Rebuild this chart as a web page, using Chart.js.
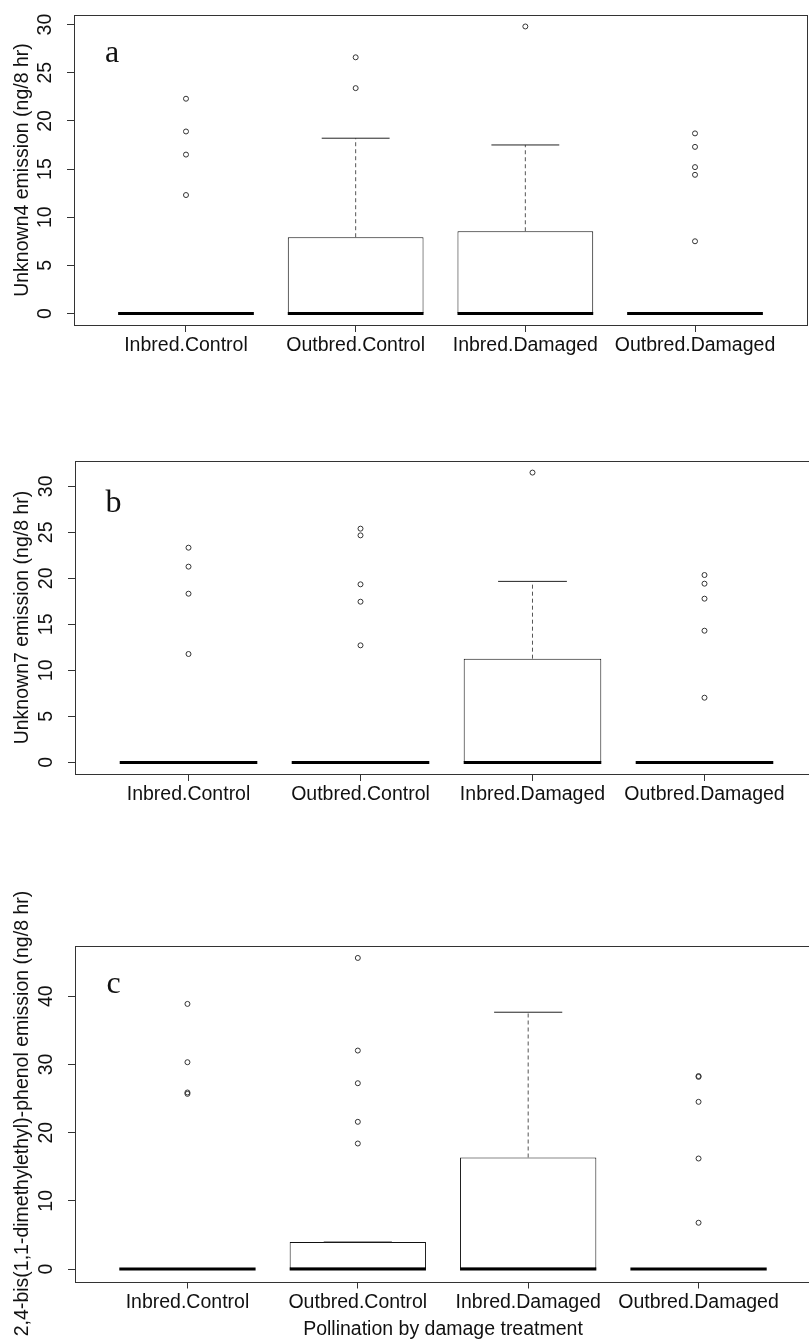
<!DOCTYPE html>
<html>
<head>
<meta charset="utf-8">
<title>Volatile emission by pollination and damage treatment</title>
<script src="https://cdn.jsdelivr.net/npm/chart.js@4.4.1/dist/chart.umd.min.js"></script>
<style>
  html, body { margin: 0; padding: 0; background: #fff; width: 809px; height: 1343px; overflow: hidden; }
  canvas { position: absolute; left: 0; }
</style>
</head>
<body>
<canvas id="panelA"></canvas>
<canvas id="panelB"></canvas>
<canvas id="panelC"></canvas>
<script>
// ---- data -------------------------------------------------------------
const categories = ['Inbred.Control', 'Outbred.Control', 'Inbred.Damaged', 'Outbred.Damaged'];

// Unknown4
const unknown4Lower   = [0, 0, 0, 0];
const unknown4Q1      = [0, 0, 0, 0];
const unknown4Median  = [0, 0, 0, 0];
const unknown4Q3      = [0, 7.92, 8.54, 0];
const unknown4Upper   = [0, 18.2, 17.5, 0];
const unknown4Outliers = [
  [12.3, 16.5, 18.9, 22.3],
  [23.4, 26.6],
  [29.8],
  [7.5, 14.4, 15.2, 17.3, 18.7]
];
const unknown4Ticks = [0, 5, 10, 15, 20, 25, 30];

// Unknown7
const unknown7Lower   = [0, 0, 0, 0];
const unknown7Q1      = [0, 0, 0, 0];
const unknown7Median  = [0, 0, 0, 0];
const unknown7Q3      = [0, 0, 11.27, 0];
const unknown7Upper   = [0, 0, 19.67, 0];
const unknown7Outliers = [
  [11.78, 18.33, 21.27, 23.33],
  [12.72, 17.46, 19.35, 24.67, 25.4],
  [31.49],
  [7.03, 14.31, 17.79, 19.42, 20.36]
];
const unknown7Ticks = [0, 5, 10, 15, 20, 25, 30];

// 2,4-bis(1,1-dimethylethyl)-phenol
const phenolLower   = [0, 0, 0, 0];
const phenolQ1      = [0, 0, 0, 0];
const phenolMedian  = [0, 0, 0, 0];
const phenolQ3      = [0, 3.96, 16.36, 0];
const phenolUpper   = [0, 3.96, 37.66, 0];
const phenolOutliers = [
  [25.69, 25.89, 30.33, 38.88],
  [18.41, 21.59, 27.25, 32.04, 45.62],
  [],
  [6.79, 16.21, 24.52, 28.18, 28.3]
];
const phenolTicks = [0, 10, 20, 30, 40];

// ---- styling ----------------------------------------------------------
const SANS = '"Liberation Sans", Arial, Helvetica, sans-serif';
const SERIF = '"Liberation Serif", "Times New Roman", serif';
const TEXT = '#111';
const LINE = '#333';
const BOX_WIDTH = 0.8;      // box width in category units
const STAPLE_WIDTH = 0.4;   // whisker cap width in category units
const CANVAS_W = 830;

// half of a width given in x-axis units, in pixels
function halfPx(chart, units) {
  const x = chart.scales.x;
  return Math.abs(x.getPixelForValue(1 + units / 2) - x.getPixelForValue(1));
}

// draws the plot frame and the panel letter
const plotFrame = {
  id: 'plotFrame',
  afterDatasetsDraw(chart, args, opts) {
    const { ctx, chartArea: { left, top, right, bottom } } = chart;
    ctx.save();
    ctx.strokeStyle = LINE;
    ctx.lineWidth = 1;
    ctx.strokeRect(Math.round(left) + 0.5, Math.round(top) + 0.5,
                   Math.round(right - left), Math.round(bottom - top));
    ctx.fillStyle = TEXT;
    ctx.font = '32px ' + SERIF;
    ctx.textBaseline = 'alphabetic';
    ctx.textAlign = 'left';
    ctx.fillText(opts.letter, left + opts.letterDx, top + opts.letterDy);
    ctx.restore();
  }
};

function makePanel(id, geom, s, text) {
  const canvas = document.getElementById(id);
  canvas.width = CANVAS_W;
  canvas.height = geom.height;
  canvas.style.top = geom.canvasTop + 'px';
  canvas.style.width = CANVAS_W + 'px';
  canvas.style.height = geom.height + 'px';

  // axis limits as R's boxplot sets them: data range padded by 4%
  const allValues = [].concat(s.lower, s.upper, s.q1, s.q3, ...s.outliers);
  const dMin = Math.min(...allValues), dMax = Math.max(...allValues);
  const yPad = (dMax - dMin) * 0.04;
  const xPad = (categories.length) * 0.04;

  const boxes = categories.map((c, i) => ({ x: i + 1, y: [s.q1[i], s.q3[i]] }));
  const whiskers = [];
  categories.forEach((c, i) => {
    if (s.upper[i] > s.q3[i]) {
      whiskers.push({ x: i + 1, y: s.q3[i] }, { x: i + 1, y: s.upper[i] }, { x: i + 1.5, y: null });
    }
    if (s.lower[i] < s.q1[i]) {
      whiskers.push({ x: i + 1, y: s.lower[i] }, { x: i + 1, y: s.q1[i] }, { x: i + 1.5, y: null });
    }
  });
  const staples = [];
  categories.forEach((c, i) => {
    staples.push({ x: i + 1, y: s.upper[i] }, { x: i + 1, y: s.lower[i] });
  });
  const medians = categories.map((c, i) => ({ x: i + 1, y: s.median[i] }));
  const outliers = [];
  s.outliers.forEach((vals, i) => vals.forEach(v => outliers.push({ x: i + 1, y: v })));

  return new Chart(canvas, {
    type: 'bar',
    data: {
      datasets: [
        {
          type: 'bar', data: boxes, order: 4,
          backgroundColor: '#fff', borderColor: '#111', borderWidth: 1,
          borderSkipped: false, barPercentage: BOX_WIDTH, categoryPercentage: 1
        },
        {
          type: 'line', data: whiskers, order: 3,
          borderColor: '#555', borderWidth: 1, borderDash: [4, 3],
          pointRadius: 0, spanGaps: false, fill: false, tension: 0
        },
        {
          type: 'scatter', data: staples, order: 2,
          pointStyle: 'line', pointBorderColor: '#222', pointBorderWidth: 1,
          pointRadius: ctx => halfPx(ctx.chart, STAPLE_WIDTH)
        },
        {
          type: 'scatter', data: medians, order: 1,
          pointStyle: 'line', pointBorderColor: '#000', pointBorderWidth: 3,
          pointRadius: ctx => halfPx(ctx.chart, BOX_WIDTH)
        },
        {
          type: 'scatter', data: outliers, order: 0,
          pointStyle: 'circle', pointRadius: 2.5, pointBorderWidth: 1,
          pointBorderColor: '#333', pointBackgroundColor: 'rgba(255,255,255,0)'
        }
      ]
    },
    options: {
      responsive: false,
      animation: false,
      devicePixelRatio: 1,
      events: [],
      layout: {
        padding: { left: 0, top: geom.top, right: CANVAS_W - geom.right, bottom: 0 }
      },
      plugins: {
        legend: { display: false },
        tooltip: { enabled: false },
        plotFrame: { letter: text.letter, letterDx: geom.letterDx, letterDy: geom.letterDy }
      },
      scales: {
        x: {
          type: 'linear',
          bounds: 'data',
          offset: false,
          min: 0.5 - xPad,
          max: categories.length + 0.5 + xPad,
          afterBuildTicks: sc => { sc.ticks = categories.map((c, i) => ({ value: i + 1 })); },
          afterFit: sc => {
            sc.height = geom.height - geom.bottom;
            sc.paddingLeft = 0; sc.paddingRight = 0;
          },
          ticks: {
            autoSkip: false, minRotation: 0, maxRotation: 0, padding: 2,
            color: TEXT, font: { family: SANS, size: 19.5 },
            callback: (v, i) => categories[i]
          },
          grid: { display: true, offset: false, drawOnChartArea: false, drawTicks: true, tickLength: 7, color: LINE },
          border: { display: false },
          title: {
            display: !!text.xTitle, text: text.xTitle || '',
            color: TEXT, font: { family: SANS, size: 19.5 },
            padding: { top: 0, bottom: 1.3 }
          }
        },
        y: {
          type: 'linear',
          bounds: 'data',
          min: dMin - yPad,
          max: dMax + yPad,
          afterBuildTicks: sc => { sc.ticks = s.ticks.map(v => ({ value: v })); },
          afterFit: sc => {
            sc.width = geom.left;
            sc.paddingTop = 0; sc.paddingBottom = 0;
          },
          ticks: {
            autoSkip: false, minRotation: 90, maxRotation: 90, crossAlign: 'center', padding: 11,
            color: TEXT, font: { family: SANS, size: 19.5 },
            callback: v => String(v)
          },
          grid: { display: true, drawOnChartArea: false, drawTicks: true, tickLength: 7, color: LINE },
          border: { display: false },
          title: {
            display: true, text: text.yTitle,
            color: TEXT, font: { family: SANS, size: 19.5 },
            padding: { top: 10.5, bottom: 0 }
          }
        }
      }
    },
    plugins: [plotFrame]
  });
}

makePanel('panelA',
  { canvasTop: 0, height: 420, top: 15, bottom: 325, left: 74, right: 807, letterDx: 31, letterDy: 47 },
  { lower: unknown4Lower, q1: unknown4Q1, median: unknown4Median, q3: unknown4Q3,
    upper: unknown4Upper, outliers: unknown4Outliers, ticks: unknown4Ticks },
  { letter: 'a', yTitle: 'Unknown4 emission (ng/8 hr)' });

makePanel('panelB',
  { canvasTop: 430, height: 420, top: 31, bottom: 344, left: 75, right: 818, letterDx: 30.5, letterDy: 51 },
  { lower: unknown7Lower, q1: unknown7Q1, median: unknown7Median, q3: unknown7Q3,
    upper: unknown7Upper, outliers: unknown7Outliers, ticks: unknown7Ticks },
  { letter: 'b', yTitle: 'Unknown7 emission (ng/8 hr)' });

makePanel('panelC',
  { canvasTop: 870, height: 473, top: 75.5, bottom: 411.5, left: 75, right: 811, letterDx: 31.5, letterDy: 47 },
  { lower: phenolLower, q1: phenolQ1, median: phenolMedian, q3: phenolQ3,
    upper: phenolUpper, outliers: phenolOutliers, ticks: phenolTicks },
  { letter: 'c', yTitle: '2,4-bis(1,1-dimethylethyl)-phenol emission (ng/8 hr)',
    xTitle: 'Pollination by damage treatment' });
</script>
</body>
</html>
